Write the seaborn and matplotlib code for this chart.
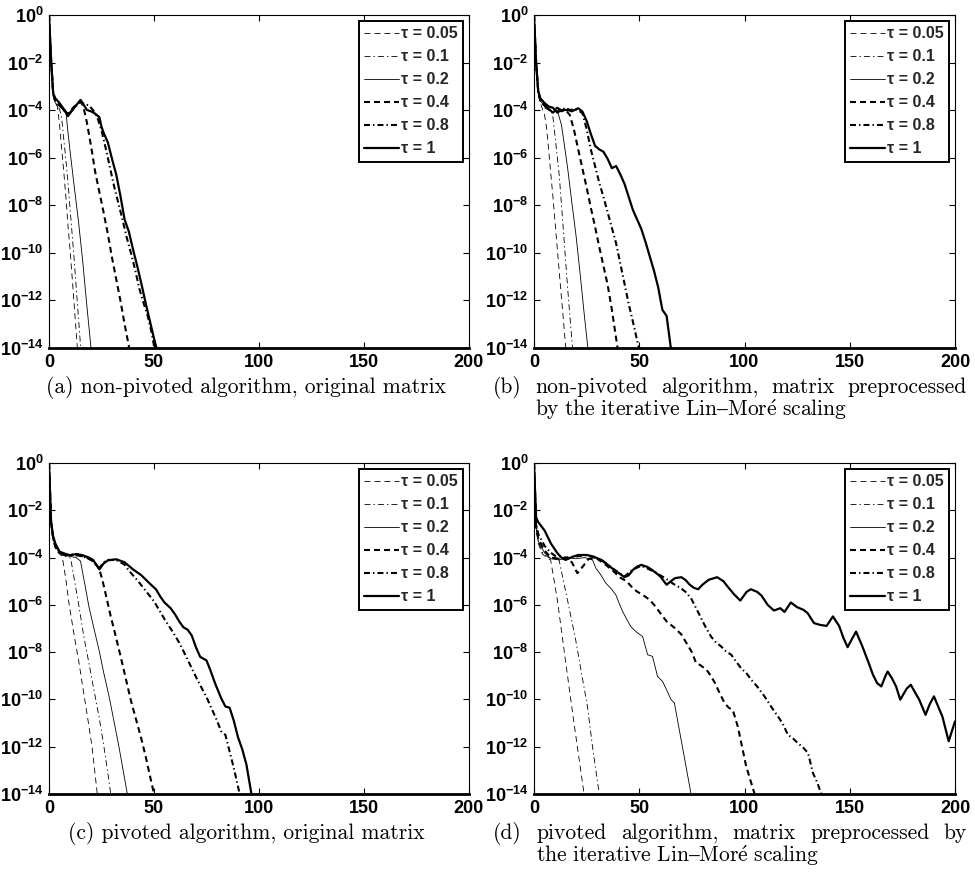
import numpy as np
import matplotlib
matplotlib.use('Agg')
import matplotlib.pyplot as plt
import seaborn as sns

# tau values (one curve per tau in every panel)
taus = ['0.05', '0.1', '0.2', '0.4', '0.8', '1']

# y values are stored as log10 of the residual

# (a) non-pivoted, original matrix
a_x_005 = [0, 1, 2, 3, 4, 5, 6, 7, 8, 9, 10, 11, 12, 13.5]
a_y_005 = [0, -1.9, -3.4, -3.7, -3.85, -4.6, -5.6, -6.55, -7.6, -8.8, -9.85, -11.0, -12.2, -14]
a_x_01 = [0, 1, 2, 3, 4, 5, 6, 7, 8, 9, 10, 11, 12, 13, 14, 15.1]
a_y_01 = [0, -1.9, -3.4, -3.7, -3.85, -3.95, -4.3, -5.2, -6.05, -7.0, -8.1, -9.2, -10.3, -11.5, -12.7, -14]
a_x_02 = [0, 1, 2, 3, 5, 7, 8, 9, 10, 12, 14, 16, 18, 20]
a_y_02 = [0, -1.9, -3.4, -3.7, -3.85, -3.95, -4.0, -4.9, -5.7, -7.2, -8.65, -10.3, -12.2, -14]
a_x_04 = [0, 1, 2, 3, 5, 7, 9, 12, 15, 16, 17, 18, 20, 22, 24, 26, 28, 30, 32, 34, 36, 38.2]
a_y_04 = [0, -1.9, -3.3, -3.6, -3.8, -4.0, -4.15, -3.85, -3.65, -3.78, -4.1, -4.5, -5.5, -6.6,
          -7.45, -8.3, -9.2, -10.2, -11.1, -12.0, -13.0, -14]
a_x_08 = [0, 1, 2, 3, 5, 7, 9, 12, 15, 17, 19, 21, 23, 25, 27, 29, 31, 33, 35, 37, 39, 41, 43,
          45, 47, 49, 50.2]
a_y_08 = [0, -1.9, -3.3, -3.6, -3.75, -4.0, -4.2, -3.9, -3.65, -3.75, -3.8, -4.0, -4.3, -4.85,
          -5.6, -6.4, -7.2, -7.9, -8.6, -9.35, -10.0, -10.7, -11.5, -12.1, -12.65, -13.4, -14]
a_x_1 = [0, 1, 2, 3, 5, 7, 9, 12, 15, 16, 18, 20, 22, 24, 25, 26, 28, 30, 32, 34, 36, 38, 40,
         42, 44, 46, 48, 50, 51.2]
a_y_1 = [0, -1.9, -3.3, -3.5, -3.7, -3.95, -4.25, -3.9, -3.57, -3.7, -3.99, -4.05, -4.15, -4.3,
         -4.7, -4.95, -5.35, -6.05, -6.7, -7.6, -8.6, -9.1, -9.85, -10.55, -11.3, -12.1, -12.85,
         -13.6, -14]

# (b) non-pivoted, Lin-More scaling
b_x_005 = [0, 1, 2, 3, 4, 5, 6, 7, 8, 9, 10, 11, 12, 13, 14, 15.1]
b_y_005 = [0, -2, -3.3, -3.7, -3.95, -4.2, -4.75, -5.7, -6.7, -7.65, -8.7, -9.75, -10.8, -11.85,
           -12.85, -14]
b_x_01 = [0, 1, 2, 3, 5, 7, 8, 9, 10, 11, 12, 13, 14, 15, 16, 17, 18.3]
b_y_01 = [0, -2, -3.3, -3.6, -3.9, -4.0, -4.0, -4.3, -5.1, -5.9, -6.75, -7.9, -9.1, -10.3,
          -11.5, -12.6, -14]
b_x_02 = [0, 1, 2, 3, 5, 7, 9, 11, 12, 13, 14, 16, 18, 20, 22, 24, 25.6]
b_y_02 = [0, -2, -3.2, -3.6, -3.85, -4.0, -4.1, -4.0, -4.3, -4.6, -5.2, -6.45, -7.9, -9.3,
          -10.95, -12.7, -14]
b_x_04 = [0, 1, 2, 3, 5, 7, 9, 11, 13, 15, 17, 19, 21, 23, 25, 27, 29, 31, 33, 35, 37, 39.7]
b_y_04 = [0, -2, -3.2, -3.6, -3.8, -3.95, -4.1, -3.95, -4.05, -4.0, -4.2, -4.83, -5.65, -6.45,
          -7.25, -8.1, -8.9, -9.75, -10.55, -11.35, -12.4, -14]
b_x_08 = [0, 1, 2, 3, 5, 7, 9, 11, 13, 15, 17, 19, 21, 23, 25, 27, 29, 31, 33, 35, 37, 39, 41,
          43, 45, 47, 49.8]
b_y_08 = [0, -2, -3.2, -3.6, -3.8, -3.95, -4.1, -3.9, -4.0, -3.9, -4.0, -3.95, -4.0, -4.13,
          -4.8, -5.65, -6.35, -7.05, -7.65, -8.3, -8.95, -9.6, -10.45, -11.3, -12.15, -12.9, -14]
b_x_1 = [0, 1, 2, 3, 5, 7, 9, 11, 13, 16, 18, 21, 23, 25, 27, 29, 31, 33, 35, 37, 39, 41, 43,
         45, 47, 49, 51, 53, 55, 57, 59, 61, 63, 65]
b_y_1 = [0, -2.0, -3.2, -3.5, -3.7, -3.85, -3.9, -4.1, -4.0, -3.99, -4.05, -3.92, -4.06, -4.45,
         -5.0, -5.5, -5.65, -5.75, -6.05, -6.44, -6.35, -6.7, -7.1, -7.65, -8.2, -8.6, -9.0,
         -9.55, -10.15, -10.75, -11.45, -12.4, -12.65, -14]

# (c) pivoted, original matrix
c_x_005 = [0, 1, 2, 3, 4.5, 6.3, 8, 9.5, 12, 14.3, 16.3, 18.3, 20.5, 23]
c_y_005 = [0, -2.5, -3.3, -3.6, -3.8, -3.96, -4.9, -5.93, -7.3, -8.46, -9.6, -10.72, -12.0, -14]
c_x_01 = [0, 1, 2, 3, 5, 8, 10.3, 12, 14.3, 16.5, 19, 21.5, 23.8, 26, 28, 29.4]
c_y_01 = [0, -2.5, -3.3, -3.6, -3.85, -3.95, -4.03, -4.9, -6.07, -7.3, -8.46, -9.65, -10.72,
          -11.9, -13.1, -14]
c_x_02 = [0, 1, 2, 3, 5, 8, 10, 13, 15, 17, 19, 21, 23.8, 26, 28.6, 31, 33.3, 35.5, 37.3]
c_y_02 = [0, -2.5, -3.2, -3.5, -3.8, -3.9, -3.95, -4.0, -4.15, -5.1, -6.07, -6.85, -7.9, -8.85,
          -9.87, -10.95, -12.0, -13.1, -14]
c_x_04 = [0, 1, 2, 3, 5, 8, 10, 13, 16, 19, 21, 23.8, 25.4, 27, 29.4, 31, 34.1, 36, 38.9, 41,
          43.7, 46, 48, 50]
c_y_04 = [0, -2.5, -3.2, -3.5, -3.8, -3.9, -3.9, -3.85, -3.95, -4.05, -4.15, -4.45, -4.94,
          -5.55, -6.49, -7.05, -8.18, -8.9, -10.01, -10.7, -11.57, -12.4, -13.2, -14]
c_x_08 = [0, 1, 2, 3, 5, 8, 10, 13, 16, 19, 21, 24, 26, 28, 32, 36, 38, 42, 46, 50, 53, 56, 59,
          62, 64, 67, 70, 72, 75, 78, 80, 82, 84, 86, 88, 90.8]
c_y_08 = [0, -2.5, -3.2, -3.5, -3.8, -3.9, -3.9, -3.9, -3.95, -4.05, -4.15, -4.45, -4.2, -4.1,
          -4.1, -4.3, -4.55, -4.95, -5.4, -5.85, -6.3, -6.75, -7.15, -7.6, -7.95, -8.5, -9.05,
          -9.4, -9.9, -10.5, -10.9, -11.35, -11.5, -12.2, -12.9, -14]
c_x_1 = [0, 1, 2, 3, 5, 8, 10, 13, 16, 19, 21, 24, 26, 28, 32, 36, 40, 44, 48, 51, 53, 55, 58,
         60, 62, 64, 66, 68, 70, 72, 75, 77, 79, 82, 84, 86, 88, 90, 92, 94, 96.4]
c_y_1 = [0, -2.5, -3.1, -3.4, -3.75, -3.85, -3.9, -3.85, -3.9, -4.0, -4.1, -4.5, -4.25, -4.12,
         -4.07, -4.2, -4.5, -4.75, -5.1, -5.35, -5.65, -5.9, -6.15, -6.4, -6.7, -6.95, -7.05,
         -7.3, -7.8, -8.2, -8.35, -8.8, -9.3, -9.95, -10.3, -10.35, -10.9, -11.6, -12.1, -12.75,
         -14]

# (d) pivoted, Lin-More scaling
d_x_005 = [0, 1, 2, 4, 6, 7.9, 11.1, 15.1, 19, 23.8]
d_y_005 = [0, -2.7, -3.4, -3.85, -4.0, -4.1, -5.79, -8.46, -11.0, -14]
d_x_01 = [0, 1, 2, 4, 7, 10, 11.9, 15.9, 19.8, 22.6, 25.4, 27.8, 31]
d_y_01 = [0, -2.7, -3.3, -3.8, -4.0, -4.05, -4.1, -5.79, -7.48, -8.9, -10.3, -12.0, -14]
d_x_02 = [0, 1, 2, 5, 8, 12, 16, 20, 24, 27.8, 29.4, 31.5, 34.1, 36.5, 38.9, 40.5, 42.1, 44, 46,
          48.4, 51.6, 54, 56.3, 58.7, 61.1, 63, 65.1, 66.7, 74.6]
d_y_02 = [0, -2.7, -3.3, -3.8, -4.05, -4.1, -4.0, -4.05, -4.0, -4.1, -4.45, -4.7, -5.08, -5.3,
          -5.58, -5.95, -6.28, -6.6, -6.92, -7.13, -7.34, -8.11, -8.18, -9.03, -9.24, -9.6,
          -10.01, -10.15, -14]
d_x_04 = [0, 1, 2, 5, 8, 12, 15, 18, 20.6, 23, 26, 30, 34, 38, 41, 44, 47, 49, 52, 55, 58, 60,
          63, 67, 70, 72, 75, 77, 79, 82, 84, 86, 88, 90.5, 92.5, 94.4, 96.8, 100.8, 104.8]
d_y_04 = [0, -2.7, -3.2, -3.7, -4.0, -4.05, -4.0, -4.2, -4.66, -4.4, -4.05, -4.05, -4.3, -4.6,
          -4.85, -5.0, -5.3, -5.44, -5.6, -5.79, -6.1, -6.35, -6.7, -6.99, -7.25, -7.55, -8.0,
          -8.46, -8.55, -8.75, -9.0, -9.31, -9.7, -10.15, -10.35, -10.44, -11.14, -12.83, -14]
d_x_08 = [0, 1, 2, 5, 8, 12, 15, 20, 25, 32, 38, 43, 47, 51, 56, 60, 63.5, 66, 69.8, 72, 74.6,
          78.6, 81, 84.1, 86, 88.9, 91, 93.7, 96, 98.4, 101, 103.2, 106, 109.5, 113, 115.9,
          118, 120.6, 123, 125.4, 128, 130.2, 132.5, 134.5, 136.5]
d_y_08 = [0, -2.6, -3.0, -3.5, -3.8, -4.05, -4.0, -3.95, -3.9, -4.1, -4.5, -4.8, -4.5, -4.35,
          -4.55, -4.75, -4.94, -5.1, -5.3, -5.45, -5.72, -6.42, -6.85, -7.34, -7.55, -7.76,
          -7.95, -8.11, -8.4, -8.68, -8.9, -9.17, -9.45, -9.87, -10.35, -10.72, -11.0, -11.49,
          -11.65, -11.85, -12.05, -12.27, -13.11, -13.5, -14]
d_x_1 = [0, 1, 2, 5, 8, 11, 13, 15, 18, 21, 25, 28, 32, 35, 38, 41, 43, 45, 47, 49, 51, 54, 56,
         58, 60, 63, 65, 67, 70, 72, 74, 76, 78, 80, 83, 87, 90, 92, 95, 98, 101, 103, 106, 108,
         111, 114, 117, 119, 122, 125, 128, 130, 133, 136, 139, 142, 145, 147, 149, 151, 153,
         156, 159, 161, 163, 165, 167, 168, 170, 172, 174, 177, 179, 181, 183, 186, 188, 190,
         192, 194, 197, 200]
d_y_1 = [0, -2.3, -2.5, -2.85, -3.4, -3.8, -4.0, -4.1, -3.98, -3.89, -3.89, -3.95, -4.1, -4.3,
         -4.52, -4.7, -4.83, -4.75, -4.52, -4.38, -4.31, -4.4, -4.52, -4.65, -4.8, -5.15, -5.0,
         -4.87, -4.83, -4.95, -5.15, -5.28, -5.34, -5.15, -4.94, -4.83, -5.0, -5.23, -5.55,
         -5.82, -5.45, -5.34, -5.45, -5.6, -6.0, -6.24, -6.14, -6.3, -5.9, -6.1, -6.21, -6.35,
         -6.77, -6.85, -6.89, -6.49, -6.9, -7.4, -7.79, -7.45, -7.13, -7.76, -8.46, -8.95,
         -9.31, -9.45, -9.0, -8.82, -9.1, -9.45, -10.01, -9.55, -9.38, -9.7, -10.01, -10.65,
         -10.2, -9.87, -10.3, -10.72, -11.77, -10.93]

panels = [
    ([a_x_005, a_x_01, a_x_02, a_x_04, a_x_08, a_x_1],
     [a_y_005, a_y_01, a_y_02, a_y_04, a_y_08, a_y_1]),
    ([b_x_005, b_x_01, b_x_02, b_x_04, b_x_08, b_x_1],
     [b_y_005, b_y_01, b_y_02, b_y_04, b_y_08, b_y_1]),
    ([c_x_005, c_x_01, c_x_02, c_x_04, c_x_08, c_x_1],
     [c_y_005, c_y_01, c_y_02, c_y_04, c_y_08, c_y_1]),
    ([d_x_005, d_x_01, d_x_02, d_x_04, d_x_08, d_x_1],
     [d_y_005, d_y_01, d_y_02, d_y_04, d_y_08, d_y_1]),
]

# thin dashed, thin dash-dot, thin solid, thick dashed, thick dash-dot, thick solid
dash = (0, (4.3, 2.9))
dashdot = (0, (4.3, 2.2, 1.0, 2.2))
line_styles = [(0.6, dash), (0.6, dashdot), (0.6, '-'), (1.5, dash), (1.5, dashdot), (1.6, '-')]

# captions: first line (plain TeX-like roman), second line (mathtext, for the accent)
captions = [
    ('(a) non-pivoted algorithm, original matrix', None),
    ('(b) non-pivoted algorithm, matrix preprocessed',
     r'$\mathrm{by\ the\ iterative\ Lin–Mor\acute{e}\ scaling}$'),
    ('(c) pivoted algorithm, original matrix', None),
    ('(d) pivoted algorithm, matrix preprocessed by',
     r'$\mathrm{the\ iterative\ Lin–Mor\acute{e}\ scaling}$'),
]

sns.set_theme(style='ticks')
plt.rcParams['font.family'] = ['Liberation Sans', 'DejaVu Sans']
plt.rcParams['mathtext.fontset'] = 'custom'
plt.rcParams['mathtext.rm'] = 'Liberation Sans:bold'
plt.rcParams['mathtext.it'] = 'Liberation Sans:bold'
plt.rcParams['mathtext.bf'] = 'Liberation Sans:bold'
plt.rcParams['lines.scale_dashes'] = False

W, H = 975, 880
fig = plt.figure(figsize=(W / 100, H / 100), dpi=100)
renderer = fig.canvas.get_renderer()

cap_font = dict(fontsize=15.5, family=['cmr10', 'DejaVu Serif'], color='black')


def justified_line(text, x0, x1, y):
    """Draw one caption line spread from x0 to x1 (pixels); return x of 2nd word."""
    words = text.split(' ')
    items = [fig.text(0, 1 - y / H, w, ha='left', va='baseline', **cap_font) for w in words]
    widths = [t.get_window_extent(renderer).width for t in items]
    gap = (x1 - x0 - sum(widths)) / (len(words) - 1)
    x = x0
    starts = []
    for t, w in zip(items, widths):
        t.set_x(x / W)
        starts.append(x)
        x += w + gap
    return starts[1]


# axes boxes in pixels: left, top, right, bottom
boxes = [(49, 15, 469, 348), (534, 15, 955, 348), (49, 463, 469, 794), (534, 463, 955, 794)]

ytick_vals = [10.0 ** e for e in range(-14, 1, 2)]
ytick_labels = [r'$10^{%d}$' % e if e == 0 else r'$10^{-%d}$' % -e for e in range(-14, 1, 2)]

for (l, t, r, b), (xs, ys), (cap1, cap2) in zip(boxes, panels, captions):
    ax = fig.add_axes([l / W, 1 - b / H, (r - l) / W, (b - t) / H])
    ax.set_yscale('log')
    for tau, x, y, (lw, ls) in zip(taus, xs, ys, line_styles):
        sns.lineplot(x=x, y=10.0 ** np.array(y), ax=ax, color='black', lw=lw, linestyle=ls,
                     label=f'τ = {tau}', sort=False, estimator=None)
    ax.set_xlim(0, 200)
    ax.set_ylim(1e-14, 1)
    ax.set_xticks([0, 50, 100, 150, 200])
    ax.set_yticks(ytick_vals)
    ax.set_yticklabels(ytick_labels)
    ax.minorticks_off()
    ax.set_xlabel('')
    ax.set_ylabel('')
    ax.tick_params(direction='in', top=True, right=True, length=4, width=0.8,
                   labelsize=13, colors='black', pad=4)
    for lab in ax.get_xticklabels():
        lab.set_fontweight('bold')
    for side in ['top', 'left', 'right']:
        ax.spines[side].set_linewidth(0.8)
        ax.spines[side].set_color('black')
    ax.spines['bottom'].set_linewidth(2.0)
    ax.spines['bottom'].set_color('black')

    leg = ax.legend(loc='upper right', prop={'weight': 'bold', 'size': 11.5}, fancybox=False,
                    edgecolor='black', framealpha=1, handlelength=2.2, handletextpad=0.1,
                    borderpad=0.35, labelspacing=0.5, borderaxespad=0.35)
    leg.get_frame().set_linewidth(1.4)

    # caption under each panel (baseline positions)
    base = b + 45
    if cap2 is None:
        fig.text((l - 49 + 246) / W, 1 - base / H, cap1, ha='center', va='baseline', **cap_font)
    else:
        x2 = justified_line(cap1, 493, 967, base)
        fig.text(x2 / W, 1 - (base + 23) / H, cap2, ha='left', va='baseline',
                 math_fontfamily='cm', **cap_font)

fig.savefig('out.png', dpi=100, facecolor='white')
